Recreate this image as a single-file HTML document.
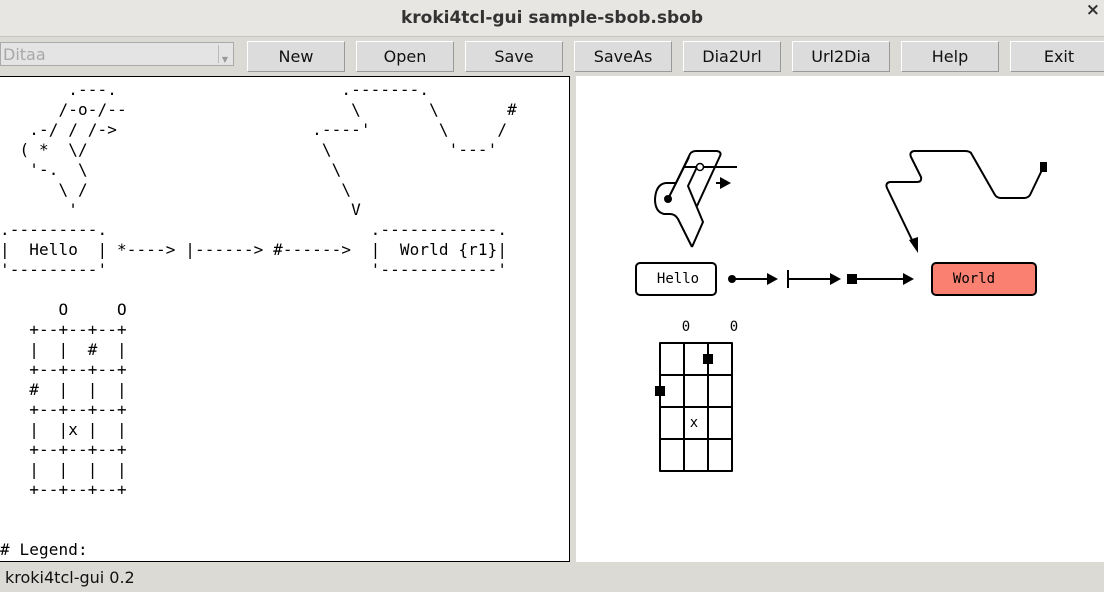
<!DOCTYPE html>
<html><head><style>
body{margin:0;width:1104px;height:592px;overflow:hidden;background:#dcdad5;font-family:"DejaVu Sans","Liberation Sans",sans-serif;position:relative}
.title{position:absolute;left:0;top:0;width:1104px;height:36px;background:#e8e6e3;border-bottom:1px solid #c8c4bf;text-align:center;line-height:36px;font-weight:bold;font-size:17px;color:#333}
.x{position:absolute;right:4px;top:0;font-size:17px;font-weight:bold;color:#333}
.combo{position:absolute;left:0;top:42px;width:234px;height:24px;background:#e4e4e4;border:1px solid #aaa;color:#a8a8a8;font-size:16px;line-height:24px;padding-left:2px;box-sizing:border-box}
.combo i{position:absolute;right:2px;top:2px;width:12px;height:18px;border-left:1px solid #bbb;font-style:normal;font-size:8px;color:#999;line-height:30px;text-align:center}
.btn{position:absolute;top:41px;width:96px;height:29px;background:#dcdcdc;border:1px solid #999;border-top-color:#fff;border-left-color:#fff;font-size:16px;text-align:center;line-height:29px;color:#111}
.left{position:absolute;left:0;top:76px;width:569px;height:484px;background:#fff;border:1px solid #000;border-left:none;overflow:hidden}
pre{margin:0;position:absolute;left:0;top:3px;font-family:"DejaVu Sans Mono","Liberation Mono",monospace;font-size:16px;letter-spacing:0.12px;line-height:20px;color:#000}
.right{position:absolute;left:576px;top:76px;width:528px;height:486px;background:#fff}
.status{position:absolute;left:5px;top:568px;font-size:16px;color:#111}
</style></head><body>
<div class="title">kroki4tcl-gui sample-sbob.sbob</div><div class="x">×</div>
<div class="combo">Ditaa<i>▼</i></div>
<div class="btn" style="left:247px">New</div>
<div class="btn" style="left:356px">Open</div>
<div class="btn" style="left:465px">Save</div>
<div class="btn" style="left:574px">SaveAs</div>
<div class="btn" style="left:683px">Dia2Url</div>
<div class="btn" style="left:792px">Url2Dia</div>
<div class="btn" style="left:901px">Help</div>
<div class="btn" style="left:1010px">Exit</div>
<div class="left"><pre>       .---.                       .-------.
      /-o-/--                       \       \       #
   .-/ / /->                    .----'       \     /
  ( *  \/                        \            '---'
   '-.  \                         \
      \ /                          \
       '                            V
.---------.                           .------------.
|  Hello  | *----> |------> #------>  |  World {r1}|
'---------'                           '------------'

      O     O
   +--+--+--+
   |  |  #  |
   +--+--+--+
   #  |  |  |
   +--+--+--+
   |  |x |  |
   +--+--+--+
   |  |  |  |
   +--+--+--+


# Legend:</pre></div>
<div class="right"></div>
<svg style="position:absolute;left:0;top:0" width="1104" height="592">
<g fill="none" stroke="#000" stroke-width="2" stroke-linejoin="round">
<path d="M692,247 L678,219 Q675,214 670,214 L664,214 Q655,212 655,199 Q656,184 666,183 L676,183 L690,154 Q692,151 696,151 L717,151 Q722,152 720,156 L697,206"/>
<path d="M697,167 L688,186 L703,222 L692,247"/>
<path d="M668,199 L689,157"/>
<path d="M684,167 L737,167"/>
<path d="M716,183 L722,183"/>
<path d="M1042,170 L1030,195 Q1028,198 1024,198 L1001,198 Q997,198 995,195 L971,153 Q969,151 965,151 L914,151 Q909,152 911,157 L921,177 Q922,182 917,182 L890,182 Q885,183 887,188 L913,242"/>
<rect x="636" y="263" width="80" height="32" rx="4"/>
<rect x="932" y="263" width="104" height="32" rx="4" fill="#fa8072"/>
<path d="M732,279 L770,279 M788,270 L788,288 M788,279 L832,279 M852,279 L904,279"/>
<path d="M660,343 H732 V471 H660 Z M684,343 V471 M708,343 V471 M660,375 H732 M660,407 H732 M660,439 H732"/>
</g>
<circle cx="700" cy="167" r="3.5" fill="#fff" stroke="#000" stroke-width="1.5"/>
<circle cx="668" cy="199" r="4" fill="#000"/>
<circle cx="732" cy="279" r="4" fill="#000"/>
<path d="M720,177 L731,183 L720,189 Z M767,273 L778,279 L767,285 Z M830,273 L841,279 L830,285 Z M903,273 L914,279 L903,285 Z M909,240 L918,253 L918,237 Z" fill="#000"/>
<rect x="847" y="274" width="10" height="10"/>
<rect x="1040" y="162" width="7" height="10"/>
<rect x="703" y="354" width="10" height="10"/>
<rect x="655" y="386" width="10" height="10"/>
<g font-family="DejaVu Sans Mono,monospace" font-size="14" text-anchor="middle">
<text x="678" y="283">Hello</text><text x="974" y="283">World</text>
<text x="686" y="331">0</text><text x="734" y="331">0</text><text x="694" y="427">x</text>
</g>
</svg>
<div class="status">kroki4tcl-gui 0.2</div>
</body></html>
